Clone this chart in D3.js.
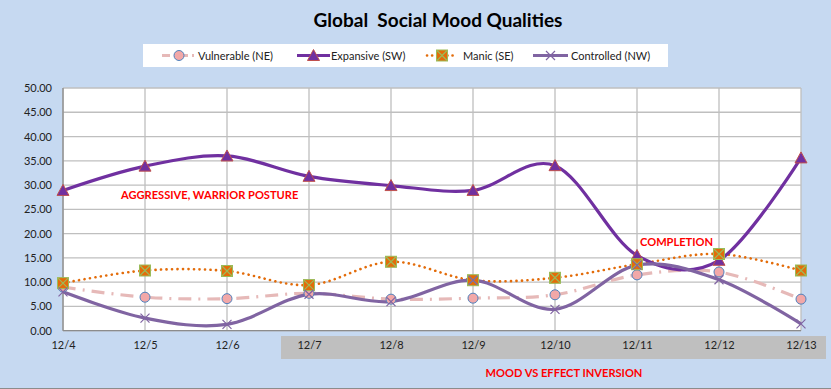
<!DOCTYPE html>
<html><head><meta charset="utf-8">
<script src="https://cdn.jsdelivr.net/npm/d3@7"></script>
<style>body{margin:0;background:#C6D9F1;}svg{display:block;font-family:Lato,"Liberation Sans",sans-serif;}</style>
</head><body><svg id="c" width="831" height="389"></svg>
<script>
const categories = ["12/4","12/5","12/6","12/7","12/8","12/9","12/10","12/11","12/12","12/13"];
const vulnerable = [9.0,6.9,6.6,7.7,6.5,6.7,7.4,11.5,12.1,6.5];
const expansive = [28.9,33.9,36.0,31.8,29.9,28.9,34.0,15.5,14.5,35.6];
const manic = [9.8,12.4,12.3,9.4,14.2,10.4,10.9,13.7,15.8,12.4];
const controlled = [8.0,2.6,1.3,7.5,6.0,10.4,4.4,13.5,10.5,1.4];
const yTicks = [0,5,10,15,20,25,30,35,40,45,50];
const seriesNames = ["Vulnerable (NE)","Expansive (SW)","Manic (SE)","Controlled (NW)"];

const svg = d3.select("#c");
svg.append("rect").attr("width",831).attr("height",389).attr("fill","#C6D9F1");
svg.append("line").attr("x1",0).attr("x2",831).attr("y1",388.5).attr("y2",388.5).attr("stroke","#8c8c8c");

const L=63,R=801,T=88,B=330.7;
const x = d3.scalePoint().domain(categories).range([L,R]);
const y = d3.scaleLinear().domain([0,50]).range([B,T]);

svg.append("rect").attr("x",L).attr("y",T).attr("width",R-L).attr("height",B-T).attr("fill","#fff");
svg.append("rect").attr("x",281).attr("y",336).attr("width",545).attr("height",23).attr("fill","#BFBFBF");

svg.append("g").selectAll("line").data(yTicks).join("line")
 .attr("x1",L).attr("x2",R).attr("y1",d=>y(d)).attr("y2",d=>y(d)).attr("stroke","#BFBFBF").attr("stroke-width",1.3);
svg.append("g").selectAll("line").data(categories).join("line")
 .attr("x1",d=>x(d)).attr("x2",d=>x(d)).attr("y1",T).attr("y2",B).attr("stroke","#BFBFBF").attr("stroke-width",1.3);
svg.append("line").attr("x1",L).attr("x2",R).attr("y1",B).attr("y2",B).attr("stroke","#8c8c8c").attr("stroke-width",1.3);
svg.append("line").attr("x1",L).attr("x2",L).attr("y1",T).attr("y2",B).attr("stroke","#8c8c8c").attr("stroke-width",1.3);

const yAxis = d3.axisLeft(y).tickValues(yTicks).tickFormat(d3.format(".2f")).tickSize(0).tickPadding(11);
const gy = svg.append("g").attr("transform",`translate(${L},0)`).call(yAxis);
gy.select(".domain").remove();
gy.selectAll("text").attr("font-size",11).attr("fill","#222").attr("font-family","Lato,sans-serif");
const xAxis = d3.axisBottom(x).tickSize(0).tickPadding(11);
const gx = svg.append("g").attr("transform",`translate(0,${B})`).call(xAxis);
gx.select(".domain").remove();
gx.selectAll("text").attr("font-size",11).attr("fill","#222").attr("font-family","Lato,sans-serif");

const curve = d3.curveCardinal.tension(0);
const line = d3.line().x((d,i)=>x(categories[i])).y(d=>y(d)).curve(curve);

function drawLine(data,color,w,dash,cap){
  svg.append("path").attr("d",line(data)).attr("fill","none").attr("stroke",color)
   .attr("stroke-width",w).attr("stroke-dasharray",dash||null).attr("stroke-linecap",cap||"butt");
}
drawLine(vulnerable,"#E6B9B8",3.2,"13 7 2 7");
drawLine(manic,"#E36C0A",2.6,"0.1 5.4","round");
drawLine(expansive,"#7030A0",3.2);
drawLine(controlled,"#8064A2",3.2);

function tri(g,cx,cy){g.append("path").attr("d",`M${cx},${cy-6}L${cx+6},${cy+5}L${cx-6},${cy+5}Z`).attr("fill","#7030A0").attr("stroke","#C0504D").attr("stroke-width",1);}
function circ(g,cx,cy){g.append("circle").attr("cx",cx).attr("cy",cy).attr("r",5).attr("fill","#F2A8A8").attr("stroke","#4F81BD").attr("stroke-width",1);}
function sq(g,cx,cy){g.append("rect").attr("x",cx-5.5).attr("y",cy-5.5).attr("width",11).attr("height",11).attr("fill","#E36C0A").attr("stroke","#9BBB59").attr("stroke-width",1);
 g.append("path").attr("d",`M${cx-5},${cy-5}L${cx+5},${cy+5}M${cx+5},${cy-5}L${cx-5},${cy+5}`).attr("stroke","#9BBB59").attr("stroke-width",1.2);}
function xm(g,cx,cy){g.append("path").attr("d",`M${cx-4.5},${cy-4.5}L${cx+4.5},${cy+4.5}M${cx+4.5},${cy-4.5}L${cx-4.5},${cy+4.5}`).attr("stroke","#8064A2").attr("stroke-width",1.2);}

const mg = svg.append("g");
vulnerable.forEach((v,i)=>circ(mg,x(categories[i]),y(v)));
expansive.forEach((v,i)=>tri(mg,x(categories[i]),y(v)));
manic.forEach((v,i)=>sq(mg,x(categories[i]),y(v)));
controlled.forEach((v,i)=>xm(mg,x(categories[i]),y(v)));

svg.append("text").attr("x",121).attr("y",199).attr("font-size",11.1).attr("font-weight","bold").attr("fill","#FF0000").text("AGGRESSIVE, WARRIOR POSTURE");
svg.append("text").attr("x",640).attr("y",246).attr("font-size",11.1).attr("font-weight","bold").attr("fill","#FF0000").text("COMPLETION");
svg.append("text").attr("x",564).attr("y",377).attr("text-anchor","middle").attr("font-size",11.1).attr("font-weight","bold").attr("fill","#FF0000").text("MOOD VS EFFECT INVERSION");

svg.append("text").attr("x",438).attr("y",27).attr("text-anchor","middle").attr("font-size",19).attr("font-weight","bold").attr("fill","#000").style("white-space","pre").text("Global  Social Mood Qualities");

svg.append("rect").attr("x",143).attr("y",44).attr("width",525).attr("height",23).attr("fill","#fff");
const lg = svg.append("g");
const ly = 55.5;
const legend = [
 {sx:162,ex:196,tx:198,color:"#E6B9B8",w:3.2,dash:"8 4 2 4",mk:circ},
 {sx:297,ex:330,tx:331,color:"#7030A0",w:3.2,dash:null,mk:tri},
 {sx:427,ex:457,tx:463,color:"#E36C0A",w:2.6,dash:"0.1 5",mk:sq,cap:"round"},
 {sx:533,ex:568,tx:571,color:"#8064A2",w:3.2,dash:null,mk:xm}
];
legend.forEach((d,i)=>{
  lg.append("line").attr("x1",d.sx).attr("x2",d.ex).attr("y1",ly).attr("y2",ly).attr("stroke",d.color).attr("stroke-width",d.w)
    .attr("stroke-dasharray",d.dash).attr("stroke-linecap",d.cap||"butt");
  d.mk(lg,(d.sx+d.ex)/2,ly);
  lg.append("text").attr("x",d.tx).attr("y",ly+4).attr("font-size",11).attr("fill","#222").text(seriesNames[i]);
});
</script></body></html>
